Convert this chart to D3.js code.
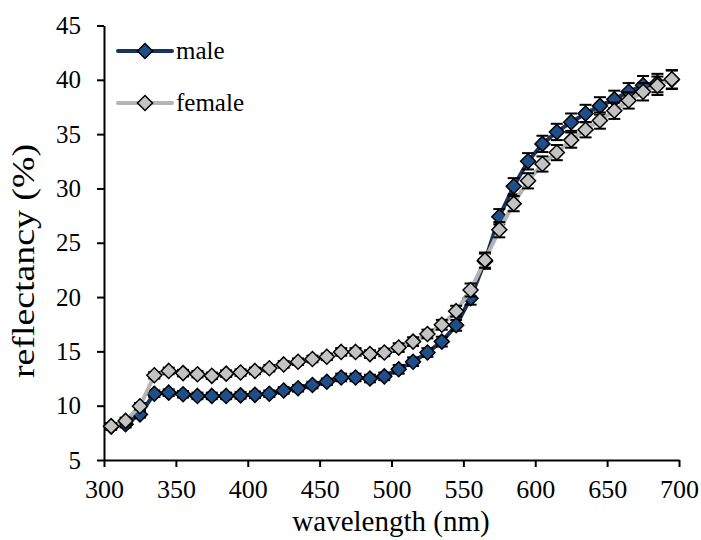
<!DOCTYPE html>
<html>
<head>
<meta charset="utf-8">
<script src="https://cdn.jsdelivr.net/npm/d3@7"></script>
<style>
  body { margin: 0; background: #fff; }
  svg text { font-family: 'Liberation Serif', 'Times New Roman', Times, 'DejaVu Serif', serif !important; fill: #000; }
</style>
</head>
<body>
<script>
// Longitudes de onda (nm)
const wavelengths = d3.range(305, 700, 10);

// Reflectancia machos (%)
const maleValues = [8.1, 8.3, 9.2, 11.1, 11.2, 11.05, 10.9, 10.9, 10.9, 10.95, 11.0, 11.1, 11.4, 11.6, 11.9, 12.2, 12.6, 12.6, 12.5, 12.7, 13.35, 14.05, 14.9, 15.9, 17.4, 19.9, 23.3, 27.4, 30.2, 32.5, 34.1, 35.2, 36.1, 36.9, 37.6, 38.2, 38.9, 39.5, 39.7, 40.0];
const maleErrors = [0.3, 0.3, 0.3, 0.3, 0.3, 0.3, 0.3, 0.3, 0.3, 0.3, 0.3, 0.3, 0.3, 0.3, 0.3, 0.3, 0.35, 0.35, 0.35, 0.35, 0.4, 0.4, 0.4, 0.45, 0.5, 0.6, 0.7, 0.7, 0.75, 0.75, 0.75, 0.75, 0.8, 0.8, 0.8, 0.8, 0.8, 0.85, 0.85, 0.85];

// Reflectancia hembras (%)
const femaleValues = [8.1, 8.6, 9.95, 12.8, 13.2, 13.0, 12.9, 12.75, 12.95, 13.05, 13.2, 13.45, 13.8, 14.05, 14.3, 14.5, 14.95, 14.95, 14.75, 14.9, 15.35, 15.9, 16.6, 17.45, 18.7, 20.65, 23.4, 26.2, 28.6, 30.7, 32.25, 33.3, 34.45, 35.4, 36.25, 37.15, 38.1, 38.9, 39.45, 40.05];
const femaleErrors = [0.3, 0.3, 0.3, 0.3, 0.3, 0.3, 0.3, 0.3, 0.3, 0.3, 0.3, 0.3, 0.3, 0.3, 0.3, 0.3, 0.35, 0.35, 0.35, 0.35, 0.4, 0.4, 0.4, 0.45, 0.5, 0.6, 0.7, 0.7, 0.7, 0.7, 0.7, 0.7, 0.7, 0.7, 0.75, 0.75, 0.75, 0.8, 0.85, 0.85];

// Ticks de los ejes
const xTicks = [300, 350, 400, 450, 500, 550, 600, 650, 700];
const yTicks = [5, 10, 15, 20, 25, 30, 35, 40, 45];

const width = 701;
const height = 540;

const svg = d3.select('body')
  .append('svg')
  .attr('width', width)
  .attr('height', height);

const x = d3.scaleLinear().domain([300, 700]).range([104, 679]);
const y = d3.scaleLinear().domain([5, 45]).range([460, 25.5]);

// Ejes
const yAxis = svg.append('g')
  .attr('transform', `translate(${x(300)},0)`)
  .call(d3.axisLeft(y).tickValues(yTicks).tickSize(7).tickSizeOuter(0).tickPadding(16));
const xAxis = svg.append('g')
  .attr('transform', `translate(0,${y(5)})`)
  .call(d3.axisBottom(x).tickValues(xTicks).tickSize(7).tickSizeOuter(0).tickPadding(13));

[xAxis, yAxis].forEach(ax => {
  ax.attr('font-family', null);
  ax.select('.domain').attr('stroke', '#000').attr('stroke-width', 2);
  ax.selectAll('.tick line').attr('stroke', '#000').attr('stroke-width', 2);
  ax.selectAll('.tick text').attr('fill', '#000');
});
yAxis.selectAll('.tick text').attr('font-size', 25);
xAxis.selectAll('.tick text').attr('font-size', 26);

// Títulos de los ejes
svg.append('text')
  .attr('x', 391)
  .attr('y', 531)
  .attr('text-anchor', 'middle')
  .attr('font-size', 29)
  .text('wavelength (nm)');

svg.append('text')
  .attr('transform', 'translate(34,261) rotate(-90)')
  .attr('text-anchor', 'middle')
  .attr('font-size', 31)
  .attr('textLength', 234)
  .attr('lengthAdjust', 'spacingAndGlyphs')
  .text('reflectancy (%)');

// Series
const series = [
  { name: 'male', values: maleValues, errors: maleErrors, line: '#1b3358', fill: '#1f4e89' },
  { name: 'female', values: femaleValues, errors: femaleErrors, line: '#b4b4b4', fill: '#c3c3c3' }
];

const diamond = (s) => `M0,${-s} L${s},0 L0,${s} L${-s},0 Z`;

const line = d3.line().x(d => x(d.w)).y(d => y(d.v));

series.forEach(s => {
  const pts = wavelengths.map((w, i) => ({ w, v: s.values[i], e: s.errors[i] }));
  const g = svg.append('g');

  g.append('path')
    .datum(pts)
    .attr('fill', 'none')
    .attr('stroke', s.line)
    .attr('stroke-width', 4)
    .attr('stroke-linejoin', 'round')
    .attr('d', line);

  const eb = g.selectAll('g.err').data(pts).join('g').attr('class', 'err');
  eb.append('line')
    .attr('x1', d => x(d.w)).attr('x2', d => x(d.w))
    .attr('y1', d => y(d.v + d.e)).attr('y2', d => y(d.v - d.e))
    .attr('stroke', '#000').attr('stroke-width', 1.5);
  eb.selectAll('line.cap').data(d => [d.v + d.e, d.v - d.e].map(v => ({ w: d.w, v })))
    .join('line').attr('class', 'cap')
    .attr('x1', d => x(d.w) - 6).attr('x2', d => x(d.w) + 6)
    .attr('y1', d => y(d.v)).attr('y2', d => y(d.v))
    .attr('stroke', '#000').attr('stroke-width', 2);

  g.selectAll('path.mk').data(pts).join('path')
    .attr('class', 'mk')
    .attr('transform', d => `translate(${x(d.w)},${y(d.v)})`)
    .attr('d', diamond(7.5))
    .attr('fill', s.fill)
    .attr('stroke', '#000')
    .attr('stroke-width', 1.5);
});

// Leyenda
const legend = svg.append('g');
series.forEach((s, i) => {
  const ly = 51 + i * 52;
  legend.append('line')
    .attr('x1', 118).attr('x2', 172)
    .attr('y1', ly).attr('y2', ly)
    .attr('stroke', s.line).attr('stroke-width', 4).attr('stroke-linecap', 'round');
  legend.append('path')
    .attr('transform', `translate(145,${ly})`)
    .attr('d', diamond(7.5))
    .attr('fill', s.fill)
    .attr('stroke', '#000')
    .attr('stroke-width', 1.5);
  legend.append('text')
    .attr('x', 176)
    .attr('y', ly)
    .attr('dy', '0.32em')
    .attr('font-size', 25)
    .text(s.name);
});
</script>
</body>
</html>
